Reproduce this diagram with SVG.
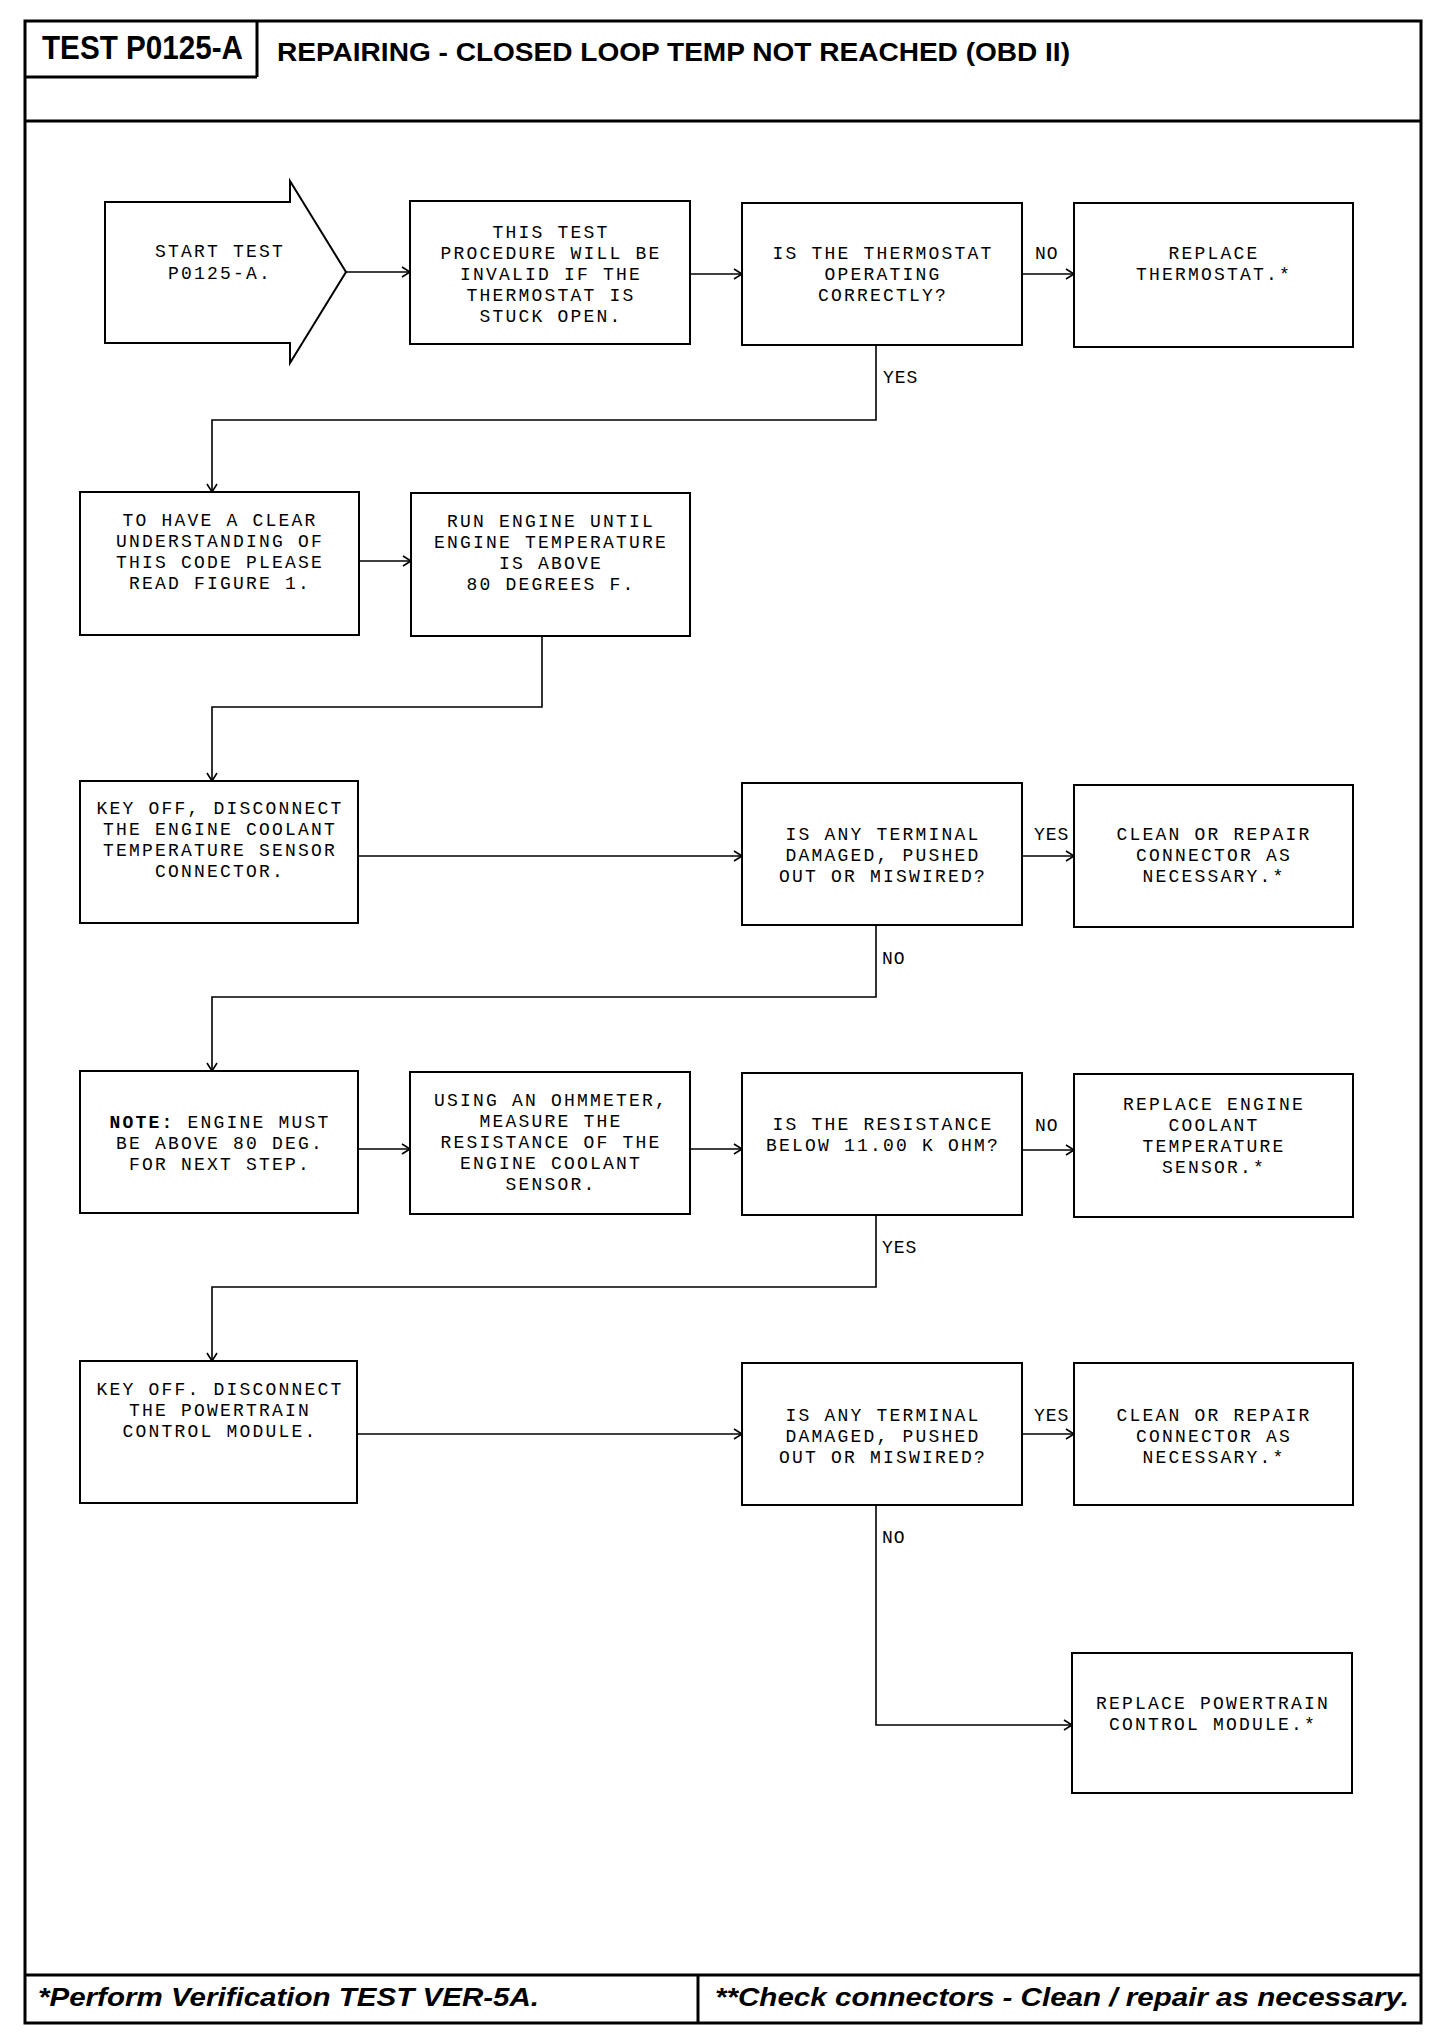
<svg xmlns="http://www.w3.org/2000/svg" width="1456" height="2044" viewBox="0 0 1456 2044">
<style>
.frame{fill:none;stroke:#000;stroke-width:3}
.box{fill:#fff;stroke:#000;stroke-width:2}
.conn{fill:none;stroke:#000;stroke-width:1.6}
.t{font-family:"Liberation Mono","DejaVu Sans Mono",monospace;font-size:18px;letter-spacing:2.2px;text-anchor:middle;fill:#000}
.lbl{font-family:"Liberation Mono","DejaVu Sans Mono",monospace;font-size:18px;letter-spacing:1px;fill:#000}
.hd{font-family:"Liberation Sans",Arial,sans-serif;font-weight:bold;fill:#000}
.ft{font-family:"Liberation Sans",Arial,sans-serif;font-weight:bold;font-style:italic;fill:#000}
</style>
<defs>
<marker id="ah" markerUnits="userSpaceOnUse" markerWidth="14" markerHeight="14" refX="10" refY="6" orient="auto">
<path d="M2,1 L10,6 L2,11" fill="none" stroke="#000" stroke-width="1.6"/>
</marker>
</defs>
<rect width="1456" height="2044" fill="#fff"/>
<g id="frame">
<rect class="frame" x="25" y="21" width="1396" height="2002"/>
<line class="frame" x1="25" y1="121" x2="1421" y2="121"/>
<line class="frame" x1="257" y1="21" x2="257" y2="77"/>
<line class="frame" x1="25" y1="77" x2="257" y2="77"/>
<line class="frame" x1="25" y1="1975" x2="1421" y2="1975"/>
<line class="frame" x1="698" y1="1975" x2="698" y2="2023"/>
<text class="hd" x="42" y="59" font-size="33" textLength="201" lengthAdjust="spacingAndGlyphs">TEST P0125-A</text>
<text class="hd" x="277" y="61" font-size="25" textLength="793" lengthAdjust="spacingAndGlyphs">REPAIRING - CLOSED LOOP TEMP NOT REACHED (OBD II)</text>
<text class="ft" x="38" y="2006" font-size="26" textLength="501" lengthAdjust="spacingAndGlyphs">*Perform Verification TEST VER-5A.</text>
<text class="ft" x="715" y="2006" font-size="26" textLength="694" lengthAdjust="spacingAndGlyphs">**Check connectors - Clean / repair as necessary.</text>
</g>
<g id="connectors">
<path class="conn" d="M346,272 H410" marker-end="url(#ah)"/>
<path class="conn" d="M690,274 H742" marker-end="url(#ah)"/>
<path class="conn" d="M1022,274 H1074" marker-end="url(#ah)"/>
<path class="conn" d="M876,345 V420 H212 V492" marker-end="url(#ah)"/>
<path class="conn" d="M359,561 H411" marker-end="url(#ah)"/>
<path class="conn" d="M542,636 V707 H212 V781" marker-end="url(#ah)"/>
<path class="conn" d="M358,856 H742" marker-end="url(#ah)"/>
<path class="conn" d="M1022,856 H1074" marker-end="url(#ah)"/>
<path class="conn" d="M876,925 V997 H212 V1071" marker-end="url(#ah)"/>
<path class="conn" d="M358,1149 H410" marker-end="url(#ah)"/>
<path class="conn" d="M690,1149 H742" marker-end="url(#ah)"/>
<path class="conn" d="M1022,1150 H1074" marker-end="url(#ah)"/>
<path class="conn" d="M876,1215 V1287 H212 V1361" marker-end="url(#ah)"/>
<path class="conn" d="M357,1434 H742" marker-end="url(#ah)"/>
<path class="conn" d="M1022,1434 H1074" marker-end="url(#ah)"/>
<path class="conn" d="M876,1505 V1725 H1072" marker-end="url(#ah)"/>
<text class="lbl" x="1035" y="259">NO</text>
<text class="lbl" x="883" y="383">YES</text>
<text class="lbl" x="1034" y="840">YES</text>
<text class="lbl" x="882" y="964">NO</text>
<text class="lbl" x="1035" y="1131">NO</text>
<text class="lbl" x="882" y="1253">YES</text>
<text class="lbl" x="1034" y="1421">YES</text>
<text class="lbl" x="882" y="1543">NO</text>
</g>
<g id="start">
<polygon class="box" points="105,202 290,202 290,181 346,272 290,363 290,343 105,343"/>
<text class="t" x="220" y="257">START TEST</text>
<text class="t" x="220" y="279">P0125-A.</text>
</g>
<g id="n-invalid">
<rect class="box" x="410" y="201" width="280" height="143"/>
<text class="t" x="551" y="238">THIS TEST</text>
<text class="t" x="551" y="259">PROCEDURE WILL BE</text>
<text class="t" x="551" y="280">INVALID IF THE</text>
<text class="t" x="551" y="301">THERMOSTAT IS</text>
<text class="t" x="551" y="322">STUCK OPEN.</text>
</g>
<g id="n-thermo-q">
<rect class="box" x="742" y="203" width="280" height="142"/>
<text class="t" x="883" y="259">IS THE THERMOSTAT</text>
<text class="t" x="883" y="280">OPERATING</text>
<text class="t" x="883" y="301">CORRECTLY?</text>
</g>
<g id="n-replace-thermo">
<rect class="box" x="1074" y="203" width="279" height="144"/>
<text class="t" x="1214" y="259">REPLACE</text>
<text class="t" x="1214" y="280">THERMOSTAT.*</text>
</g>
<g id="n-read-fig">
<rect class="box" x="80" y="492" width="279" height="143"/>
<text class="t" x="220" y="526">TO HAVE A CLEAR</text>
<text class="t" x="220" y="547">UNDERSTANDING OF</text>
<text class="t" x="220" y="568">THIS CODE PLEASE</text>
<text class="t" x="220" y="589">READ FIGURE 1.</text>
</g>
<g id="n-run-engine">
<rect class="box" x="411" y="493" width="279" height="143"/>
<text class="t" x="551" y="527">RUN ENGINE UNTIL</text>
<text class="t" x="551" y="548">ENGINE TEMPERATURE</text>
<text class="t" x="551" y="569">IS ABOVE</text>
<text class="t" x="551" y="590">80 DEGREES F.</text>
</g>
<g id="n-key-off-ect">
<rect class="box" x="80" y="781" width="278" height="142"/>
<text class="t" x="220" y="814">KEY OFF, DISCONNECT</text>
<text class="t" x="220" y="835">THE ENGINE COOLANT</text>
<text class="t" x="220" y="856">TEMPERATURE SENSOR</text>
<text class="t" x="220" y="877">CONNECTOR.</text>
</g>
<g id="n-terminal-q1">
<rect class="box" x="742" y="783" width="280" height="142"/>
<text class="t" x="883" y="840">IS ANY TERMINAL</text>
<text class="t" x="883" y="861">DAMAGED, PUSHED</text>
<text class="t" x="883" y="882">OUT OR MISWIRED?</text>
</g>
<g id="n-clean-1">
<rect class="box" x="1074" y="785" width="279" height="142"/>
<text class="t" x="1214" y="840">CLEAN OR REPAIR</text>
<text class="t" x="1214" y="861">CONNECTOR AS</text>
<text class="t" x="1214" y="882">NECESSARY.*</text>
</g>
<g id="n-note">
<rect class="box" x="80" y="1071" width="278" height="142"/>
<text class="t" x="220" y="1128"><tspan font-weight="bold">NOTE:</tspan> ENGINE MUST</text>
<text class="t" x="220" y="1149">BE ABOVE 80 DEG.</text>
<text class="t" x="220" y="1170">FOR NEXT STEP.</text>
</g>
<g id="n-ohmmeter">
<rect class="box" x="410" y="1072" width="280" height="142"/>
<text class="t" x="551" y="1106">USING AN OHMMETER,</text>
<text class="t" x="551" y="1127">MEASURE THE</text>
<text class="t" x="551" y="1148">RESISTANCE OF THE</text>
<text class="t" x="551" y="1169">ENGINE COOLANT</text>
<text class="t" x="551" y="1190">SENSOR.</text>
</g>
<g id="n-resistance-q">
<rect class="box" x="742" y="1073" width="280" height="142"/>
<text class="t" x="883" y="1130">IS THE RESISTANCE</text>
<text class="t" x="883" y="1151">BELOW 11.00 K OHM?</text>
</g>
<g id="n-replace-ect">
<rect class="box" x="1074" y="1074" width="279" height="143"/>
<text class="t" x="1214" y="1110">REPLACE ENGINE</text>
<text class="t" x="1214" y="1131">COOLANT</text>
<text class="t" x="1214" y="1152">TEMPERATURE</text>
<text class="t" x="1214" y="1173">SENSOR.*</text>
</g>
<g id="n-key-off-pcm">
<rect class="box" x="80" y="1361" width="277" height="142"/>
<text class="t" x="220" y="1395">KEY OFF. DISCONNECT</text>
<text class="t" x="220" y="1416">THE POWERTRAIN</text>
<text class="t" x="220" y="1437">CONTROL MODULE.</text>
</g>
<g id="n-terminal-q2">
<rect class="box" x="742" y="1363" width="280" height="142"/>
<text class="t" x="883" y="1421">IS ANY TERMINAL</text>
<text class="t" x="883" y="1442">DAMAGED, PUSHED</text>
<text class="t" x="883" y="1463">OUT OR MISWIRED?</text>
</g>
<g id="n-clean-2">
<rect class="box" x="1074" y="1363" width="279" height="142"/>
<text class="t" x="1214" y="1421">CLEAN OR REPAIR</text>
<text class="t" x="1214" y="1442">CONNECTOR AS</text>
<text class="t" x="1214" y="1463">NECESSARY.*</text>
</g>
<g id="n-replace-pcm">
<rect class="box" x="1072" y="1653" width="280" height="140"/>
<text class="t" x="1213" y="1709">REPLACE POWERTRAIN</text>
<text class="t" x="1213" y="1730">CONTROL MODULE.*</text>
</g>
</svg>
